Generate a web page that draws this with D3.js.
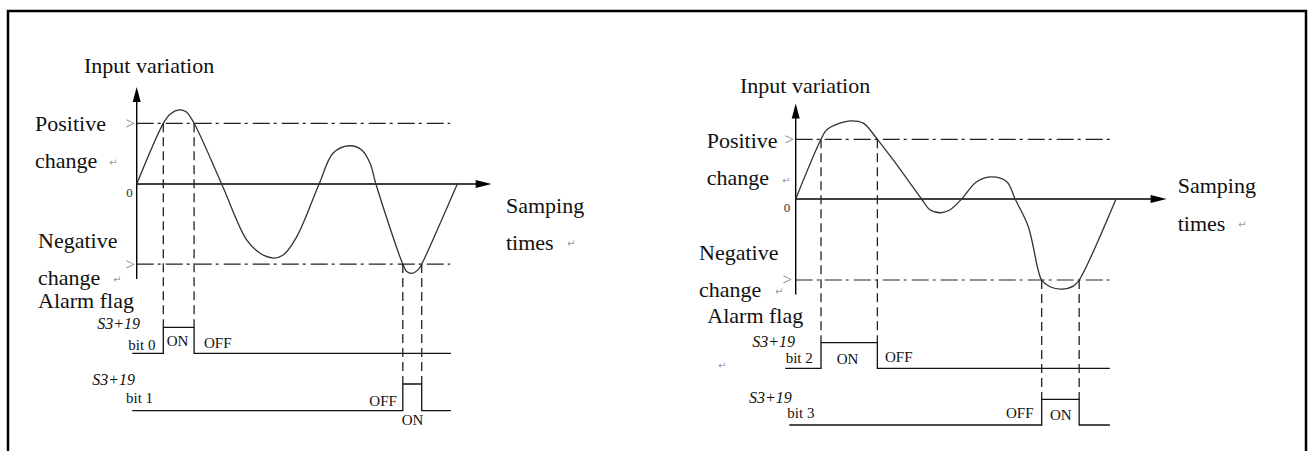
<!DOCTYPE html>
<html><head><meta charset="utf-8">
<script src="https://cdn.jsdelivr.net/npm/d3@7"></script>
<style>
html,body{margin:0;padding:0;background:#fff;}
svg{display:block;}
</style></head>
<body>
<svg id="c" width="1311" height="451"></svg>
<script>
// ---------- DATA ----------
// sampling time (0..100) and input variation (threshold = 1)
const leftCurveT = [0, 8.3, 10.4, 13.2, 15.4, 17.9, 26.5, 34.3, 38.5, 42.6, 45.7, 49.9, 56.9, 61.3, 66.3, 70.2, 72.8, 74.6, 83.0, 84.2, 86.1, 88.1, 88.9, 100];
const leftCurveV = [0, 1.0, 1.15, 1.22, 1.19, 1.0, 0, -0.92, -1.14, -1.22, -1.17, -0.87, 0, 0.51, 0.63, 0.56, 0.34, 0, -1.32, -1.44, -1.47, -1.39, -1.32, 0];
const rightCurveT = [0, 7.9, 9.7, 13.8, 17.0, 21.1, 25.5, 30.5, 39.3, 41.9, 45.4, 48.2, 51.8, 56.5, 61.2, 65.9, 68.5, 72.6, 75.7, 76.8, 79.4, 83.0, 86.7, 88.5, 100];
const rightCurveV = [0, 1.0, 1.16, 1.27, 1.31, 1.27, 1.0, 0.65, 0, -0.18, -0.23, -0.18, 0, 0.29, 0.37, 0.29, 0, -0.46, -1.19, -1.357, -1.47, -1.51, -1.46, -1.357, 0];
const leftThresholds = [1, -1.32];
const rightThresholds = [1, -1.357];
const leftOnPositive = [8.3, 17.9];
const leftOnNegative = [83.0, 88.9];
const rightOnPositive = [7.9, 25.5];
const rightOnNegative = [76.8, 88.5];
const axisTitle = "Input variation";
const timeTitle = ["Samping", "times"];
const thresholdTitles = [["Positive", "change"], ["Negative", "change"]];
const flagTitle = "Alarm flag";
const registerName = "S3+19";
const leftBits = ["bit 0", "bit 1"];
const rightBits = ["bit 2", "bit 3"];
const stateNames = ["ON", "OFF"];
const zeroLabel = "0";
const markerGlyph = ">";
const returnGlyph = "\u21B5";

// ---------- LAYOUT ----------
const panels = [
  {
    t: leftCurveT, v: leftCurveV, thr: leftThresholds, onP: leftOnPositive, onN: leftOnNegative, bits: leftBits,
    x0: 136.7, x1: 457.3, zeroY: 184, unitY: 60.7, yTop: 1.6, yBot: -1.565, xEnd: 110.7, thrEnd: 97.8,
    rows: [{low: 353.3, high: 327.3, start: -1.4, end: 98.0}, {low: 410.7, high: 384, start: -1.4, end: 98.0}],
    title: {x: 84, y: 73}, pos: {x: 35, y1: 131, y2: 168, ret: [109, 166]},
    neg: {x: 38, y1: 248, y2: 285, ret: [113, 283]}, alarm: {x: 38, y: 308},
    time: {x: 506, y1: 213, y2: 250, ret: [567, 247]}, zero: {x: 129.5, y: 196.5},
    markers: [{x: 135, y: 128.5}, {x: 135, y: 269.5}],
    reg: [{x: 140, y: 328.5}, {x: 135, y: 385}],
    bit: [{x: 128.3, y: 350}, {x: 126, y: 403.3}],
    states: [{s: 0, x: 166.7, y: 346}, {s: 1, x: 204, y: 348.3}, {s: 1, x: 369.3, y: 405.7}, {s: 0, x: 401.7, y: 425}],
    strays: []
  },
  {
    t: rightCurveT, v: rightCurveV, thr: rightThresholds, onP: rightOnPositive, onN: rightOnNegative, bits: rightBits,
    x0: 795.7, x1: 1116, zeroY: 199, unitY: 59.7, yTop: 1.6, yBot: -1.6, xEnd: 115.8, thrEnd: 98.1,
    rows: [{low: 368.3, high: 342.7, start: -3.3, end: 98.1}, {low: 425, high: 399.3, start: -2.0, end: 98.1}],
    title: {x: 740, y: 92.7}, pos: {x: 706.7, y1: 148.3, y2: 185, ret: [782, 184]},
    neg: {x: 699, y1: 260, y2: 296.7, ret: [775, 295]}, alarm: {x: 707.3, y: 322.7},
    time: {x: 1177.7, y1: 193.3, y2: 230.7, ret: [1238, 228]}, zero: {x: 787, y: 211.5},
    markers: [{x: 794, y: 144.5}, {x: 792, y: 285}],
    reg: [{x: 795, y: 346.7}, {x: 791.7, y: 402.7}],
    bit: [{x: 785.7, y: 363.3}, {x: 787.3, y: 418.3}],
    states: [{s: 0, x: 836.7, y: 364}, {s: 1, x: 885, y: 361.7}, {s: 1, x: 1006, y: 417.7}, {s: 0, x: 1050, y: 420}],
    strays: [[718, 369]]
  }
];

const svg = d3.select("#c");
const serif = "'Liberation Serif','Times New Roman',serif";

// frame
svg.append("rect").attr("x", 8).attr("y", 11).attr("width", 1298).attr("height", 470)
  .attr("fill", "none").attr("stroke", "#000").attr("stroke-width", 2.5);

function txt(g, s, x, y, size, opts = {}) {
  return g.append("text").attr("x", x).attr("y", y).text(s)
    .attr("font-family", opts.family || serif).attr("font-size", size)
    .attr("font-style", opts.italic ? "italic" : null)
    .attr("text-anchor", opts.anchor || "start")
    .attr("fill", opts.fill || "#111");
}

panels.forEach(p => {
  const g = svg.append("g");
  const x = d3.scaleLinear().domain([0, 100]).range([p.x0, p.x1]);
  const y = d3.scaleLinear().domain([0, 1]).range([p.zeroY, p.zeroY - p.unitY]);

  // threshold dash-dot lines
  p.thr.forEach(v => {
    g.append("line").attr("x1", x(0)).attr("x2", x(p.thrEnd)).attr("y1", y(v)).attr("y2", y(v))
      .attr("stroke", "#222").attr("stroke-width", 1.2).attr("stroke-dasharray", "17,4,3,5");
  });

  // y axis
  g.append("line").attr("x1", x(0)).attr("x2", x(0)).attr("y1", y(p.yBot)).attr("y2", y(p.yTop) + 6)
    .attr("stroke", "#000").attr("stroke-width", 1.4);
  g.append("path").attr("d", `M${x(0)},${y(p.yTop)} L${x(0) - 4},${y(p.yTop) + 15} L${x(0) + 4},${y(p.yTop) + 15} Z`).attr("fill", "#000");
  // x axis
  g.append("line").attr("x1", x(0)).attr("x2", x(p.xEnd) - 6).attr("y1", y(0)).attr("y2", y(0))
    .attr("stroke", "#000").attr("stroke-width", 1.4);
  g.append("path").attr("d", `M${x(p.xEnd)},${y(0)} L${x(p.xEnd) - 16},${y(0) - 4} L${x(p.xEnd) - 16},${y(0) + 4} Z`).attr("fill", "#000");

  // curve
  const pts = p.t.map((t, i) => [t, p.v[i]]);
  g.append("path").datum(pts)
    .attr("d", d3.line().x(d => x(d[0])).y(d => y(d[1])).curve(d3.curveCatmullRom.alpha(0.5)))
    .attr("fill", "none").attr("stroke", "#333").attr("stroke-width", 1.3);

  // alarm flag rows
  [p.onP, p.onN].forEach((on, i) => {
    const r = p.rows[i];
    const pathD = `M${x(r.start)},${r.low} L${x(on[0])},${r.low} L${x(on[0])},${r.high} L${x(on[1])},${r.high} L${x(on[1])},${r.low} L${x(r.end)},${r.low}`;
    g.append("path").attr("d", pathD).attr("fill", "none").attr("stroke", "#111").attr("stroke-width", 1.3);
    // dashed projections
    const thrV = p.thr[i];
    on.forEach(tv => {
      g.append("line").attr("x1", x(tv)).attr("x2", x(tv)).attr("y1", y(thrV)).attr("y2", r.high)
        .attr("stroke", "#222").attr("stroke-width", 1.3).attr("stroke-dasharray", "9,5");
    });
  });

  // texts
  txt(g, axisTitle, p.title.x, p.title.y, 22);
  txt(g, thresholdTitles[0][0], p.pos.x, p.pos.y1, 22);
  txt(g, thresholdTitles[0][1], p.pos.x, p.pos.y2, 22);
  txt(g, returnGlyph, p.pos.ret[0], p.pos.ret[1], 10, {family: "DejaVu Sans", fill: "#999"});
  txt(g, thresholdTitles[1][0], p.neg.x, p.neg.y1, 22);
  txt(g, thresholdTitles[1][1], p.neg.x, p.neg.y2, 22);
  txt(g, returnGlyph, p.neg.ret[0], p.neg.ret[1], 10, {family: "DejaVu Sans", fill: "#999"});
  txt(g, flagTitle, p.alarm.x, p.alarm.y, 22);
  txt(g, timeTitle[0], p.time.x, p.time.y1, 22);
  txt(g, timeTitle[1], p.time.x, p.time.y2, 22);
  txt(g, returnGlyph, p.time.ret[0], p.time.ret[1], 10, {family: "DejaVu Sans", fill: "#999"});
  txt(g, zeroLabel, p.zero.x, p.zero.y, 13, {anchor: "middle", fill: "#333"});
  p.markers.forEach(m => txt(g, markerGlyph, m.x, m.y, 17, {anchor: "end", fill: "#888"}));
  p.reg.forEach(r => txt(g, registerName, r.x, r.y, 16, {anchor: "end", italic: true}));
  p.bit.forEach((b, i) => txt(g, p.bits[i], b.x, b.y, 15));
  p.states.forEach(s => txt(g, stateNames[s.s], s.x, s.y, 15));
  p.strays.forEach(s => txt(g, returnGlyph, s[0], s[1], 10, {family: "DejaVu Sans", fill: "#999"}));
});
</script>
</body></html>
